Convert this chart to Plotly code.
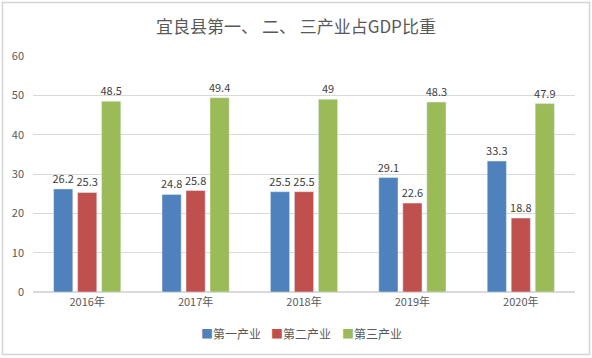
import plotly.graph_objects as go

years = ["2016年", "2017年", "2018年", "2019年", "2020年"]
primary = [26.2, 24.8, 25.5, 29.1, 33.3]
secondary = [25.3, 25.8, 25.5, 22.6, 18.8]
tertiary = [48.5, 49.4, 49, 48.3, 47.9]
names = ["第一产业", "第二产业", "第三产业"]
colors = ["#4F81BD", "#C0504D", "#9BBB59"]

W, H = 592, 358
L, R, T, B = 33, 17, 56, 66
pw = W - L - R
ph = H - T - B

fig = go.Figure()
for name, vals, c in zip(names, [primary, secondary, tertiary], colors):
    fig.add_trace(go.Bar(
        x=years, y=vals, name=name, marker_color=c,
        text=[f"{v:g}" for v in vals], textposition="outside",
        textfont=dict(size=11, color="#404040"), cliponaxis=False,
        constraintext="none", showlegend=False,
    ))

# chart border
fig.add_shape(type="rect", xref="paper", yref="paper",
              x0=(2.5 - L) / pw, x1=(589.5 - L) / pw,
              y0=-(354.5 - T - ph) / ph, y1=1 + (T - 2.5) / ph,
              line=dict(color="#D4D4D4", width=1.5), layer="below")

# legend as annotations
legend_x = [199, 269, 340]
for name, c, lx in zip(names, colors, legend_x):
    fig.add_annotation(
        xref="paper", yref="paper", x=(lx - L) / pw, y=-(333 - (T + ph)) / ph,
        xanchor="left", yanchor="middle", showarrow=False,
        text=f"<span style='color:{c}'>■</span>{name}",
        font=dict(size=12, color="#595959"),
    )

fig.update_layout(
    width=W, height=H,
    margin=dict(l=L, r=R, t=T, b=B, autoexpand=False),
    paper_bgcolor="white", plot_bgcolor="white",
    font=dict(family="Noto Sans CJK SC, sans-serif", color="#595959"),
    title=dict(text="宜良县第一、 二、 三产业占GDP比重", x=0.5, xanchor="center",
               y=1 - 27 / H, yanchor="middle",
               font=dict(size=17, color="#595959", family="Noto Sans CJK SC")),
    barmode="group", bargap=0.336, bargroupgap=0.2,
    showlegend=False,
    yaxis=dict(range=[0, 60], dtick=10, showgrid=True, gridcolor="#D9D9D9",
               zeroline=True, zerolinecolor="#D9D9D9", tickfont=dict(size=11, color="#595959"),
               ticks="", ticklabelstandoff=8),
    xaxis=dict(showgrid=False, tickfont=dict(size=11, color="#595959"),
               showline=True, linecolor="#D9D9D9"),
)

fig.write_html("out.html", config={"displayModeBar": False},
               post_script="document.body.style.margin='0';document.body.style.overflow='hidden';")
